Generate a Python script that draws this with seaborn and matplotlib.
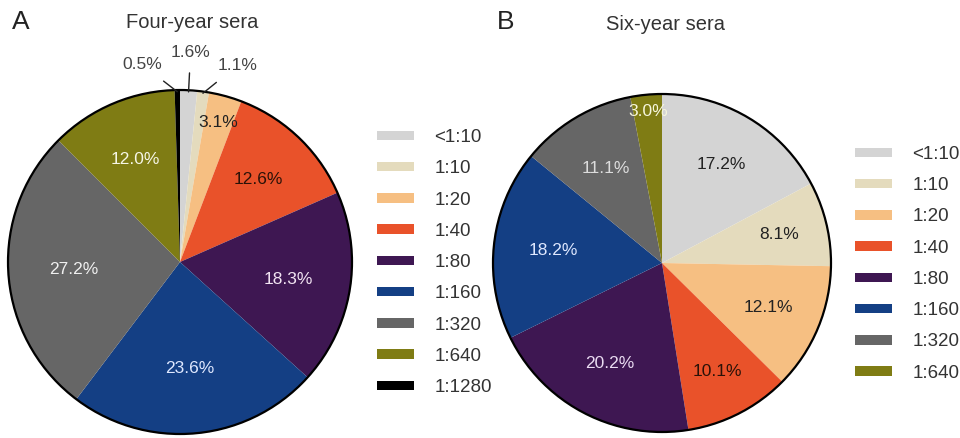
import matplotlib
matplotlib.use("Agg")
import matplotlib.pyplot as plt
import seaborn as sns
import numpy as np
from matplotlib.patches import Patch, Circle

# ---------------- data ----------------
categories_a = ["<1:10", "1:10", "1:20", "1:40", "1:80", "1:160", "1:320", "1:640", "1:1280"]
values_a = [1.6, 1.1, 3.1, 12.6, 18.3, 23.6, 27.2, 12.0, 0.5]
categories_b = ["<1:10", "1:10", "1:20", "1:40", "1:80", "1:160", "1:320", "1:640"]
values_b = [17.2, 8.1, 12.1, 10.1, 20.2, 18.2, 11.1, 3.0]
title_a = "Four-year sera"
title_b = "Six-year sera"

# ---------------- style ----------------
sns.set_theme(style="white")
plt.rcParams['font.family'] = ['Liberation Sans', 'DejaVu Sans']

palette = {"<1:10": "#d4d4d4", "1:10": "#e4dbbd", "1:20": "#f6bf82", "1:40": "#e9522a",
           "1:80": "#3e1752", "1:160": "#143f84", "1:320": "#666666", "1:640": "#7f7c14",
           "1:1280": "#000000"}
txtcol_a = ["#444444", "#444444", "#222222", "#2a1208", "#f2e4f2", "#dfe8ff", "#f0f0f0", "#f6f6e6", "#444444"]
txtcol_b = ["#222222", "#222222", "#222222", "#2a1208", "#eadcf2", "#dfe8ff", "#dcdcdc", "#f6f6dc"]
dist_a = [None, None, 0.84, 0.66, 0.64, 0.62, 0.62, 0.65, None]
dist_b = [0.68, 0.71, 0.68, 0.72, 0.67, 0.645, 0.65, 0.90]
outside_a = {0: (0.0, 1.22), 1: (-8.5, 1.19), 8: (10.0, 1.17)}  # angle offset, radius

fig = plt.figure(figsize=(9.6, 4.38), dpi=100)
W, H = 960, 438


def make_axes(cx, cy, r, x0, x1, ytop, ybot):
    ax = fig.add_axes([x0 / W, 1 - ybot / H, (x1 - x0) / W, (ybot - ytop) / H])
    return ax, ((x0 - cx) / r, (x1 - cx) / r), ((cy - ybot) / r, (cy - ytop) / r)


def draw_pie(ax, xl, yl, cats, vals, tcols, dists, outside):
    cols = [palette[c] for c in cats]
    wedges, _ = ax.pie(vals, colors=cols, startangle=90, counterclock=False,
                       wedgeprops=dict(linewidth=0, edgecolor="none"))
    ax.add_patch(Circle((0, 0), 1.0, fill=False, edgecolor="black", lw=1.6, zorder=5))
    for i, w in enumerate(wedges):
        mid = np.deg2rad((w.theta1 + w.theta2) / 2)
        label = f"{vals[i]:.1f}%"
        if i in outside:
            off, rr = outside[i]
            a = mid + np.deg2rad(off)
            tx, ty = rr * np.cos(a), rr * np.sin(a)
            ax.annotate(label, xy=(0.99 * np.cos(mid), 0.99 * np.sin(mid)), xytext=(tx, ty),
                        ha="center", va="center", fontsize=12.5, color=tcols[i],
                        arrowprops=dict(arrowstyle="-", color="#222222", lw=1.0,
                                        shrinkA=7, shrinkB=0), zorder=6)
        else:
            d = dists[i]
            ax.text(d * np.cos(mid), d * np.sin(mid), label, ha="center", va="center",
                    fontsize=12.5, color=tcols[i], zorder=6)
    ax.set_aspect("auto")
    ax.set_xlim(*xl)
    ax.set_ylim(*yl)
    ax.axis("off")


axA, xlA, ylA = make_axes(180, 262, 172, 0, 360, 40, 438)
draw_pie(axA, xlA, ylA, categories_a, values_a, txtcol_a, dist_a, outside_a)
axB, xlB, ylB = make_axes(662, 263, 169, 490, 835, 40, 438)
draw_pie(axB, xlB, ylB, categories_b, values_b, txtcol_b, dist_b, {})

# titles and panel letters
fig.text(192 / W, 1 - 23 / H, title_a, ha="center", va="center", fontsize=14.5, color="#333333")
fig.text(666 / W, 1 - 25 / H, title_b, ha="center", va="center", fontsize=14.5, color="#333333")
fig.text(12 / W, 1 - 22 / H, "A", ha="left", va="center", fontsize=19, color="#222222")
fig.text(497 / W, 1 - 22 / H, "B", ha="left", va="center", fontsize=19, color="#222222")


def legend(cats, x, ytop):
    handles = [Patch(facecolor=palette[c], edgecolor="none") for c in cats]
    fig.legend(handles, cats, loc="upper left", bbox_to_anchor=(x / W, 1 - ytop / H),
               frameon=False, fontsize=13.5, handlelength=1.95, handleheight=0.4,
               handletextpad=1.1, labelspacing=0.76, borderpad=0, borderaxespad=0,
               labelcolor="#333333")


legend(categories_a, 377, 129)
legend(categories_b, 855, 146)

fig.savefig("out.png", dpi=100, facecolor="white")
